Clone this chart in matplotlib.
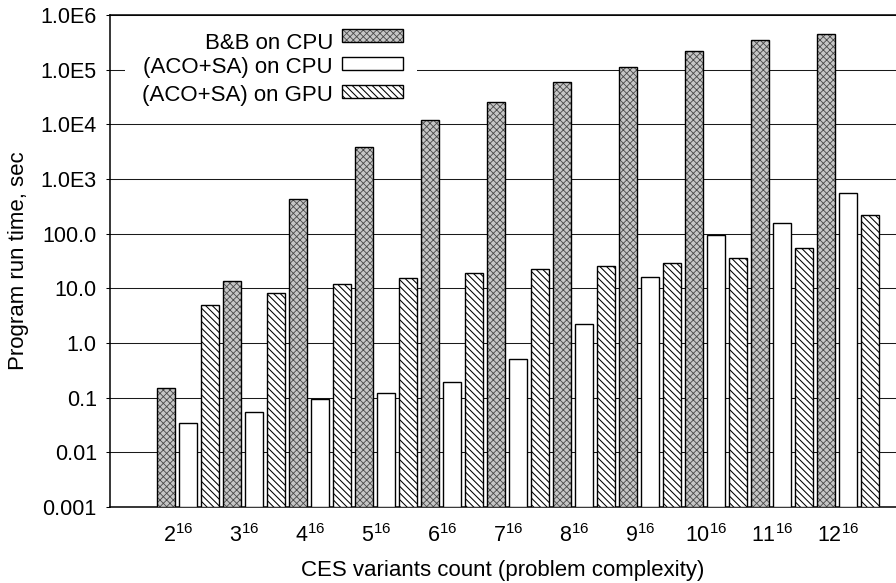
import numpy as np
import matplotlib
matplotlib.use('Agg')
import matplotlib.pyplot as plt
from matplotlib.patches import Rectangle
from matplotlib.ticker import NullLocator

# ---------------- data ----------------
categories = ['2', '3', '4', '5', '6', '7', '8', '9', '10', '11', '12']
exponent = '16'
series_names = ['B&B on CPU', '(ACO+SA) on CPU', '(ACO+SA) on GPU']
bb_cpu = [0.15, 13.6, 425, 3850, 12200, 25900, 60300, 112000, 222000, 356000, 453000]
aco_cpu = [0.035, 0.055, 0.096, 0.123, 0.196, 0.51, 2.22, 16.3, 95, 157, 556]
aco_gpu = [4.9, 8.1, 12.2, 15.7, 18.8, 22.2, 25.9, 29.4, 35.3, 55.6, 220]
ytick_values = [0.001, 0.01, 0.1, 1, 10, 100, 1e3, 1e4, 1e5, 1e6]
ytick_labels = ['0.001', '0.01', '0.1', '1.0', '10.0', '100.0', '1.0E3', '1.0E4', '1.0E5', '1.0E6']
x_label = 'CES variants count (problem complexity)'
y_label = 'Program run time, sec'

# ---------------- style ----------------
plt.rcParams['font.family'] = ['Liberation Sans', 'DejaVu Sans']
plt.rcParams['mathtext.fontset'] = 'custom'
plt.rcParams['mathtext.rm'] = 'Liberation Sans'
plt.rcParams['mathtext.it'] = 'Liberation Sans:italic'
plt.rcParams['mathtext.bf'] = 'Liberation Sans:bold'

W, H = 896, 583
L, R, T, B = 110, 896, 15, 507
fig = plt.figure(figsize=(W / 100, H / 100), dpi=100)
ax = fig.add_axes([L / W, 1 - B / H, (R - L) / W, (B - T) / H])
ax.set_yscale('log')
ymin, ymax = 0.001, 1e6

series = [bb_cpu, aco_cpu, aco_gpu]
offsets = [-1 / 3, 0.0, 1 / 3]
width = 18 / 66
x = np.arange(len(categories))


def set_hlw(patch, lw):
    if hasattr(patch, 'set_hatch_linewidth'):
        patch.set_hatch_linewidth(lw)


def draw_style(k, make):
    """make(face, edge, hatch, lw) -> list of patches"""
    if k == 0:
        with plt.rc_context({'hatch.linewidth': 0.6}):
            ps = make('#c6c6c6', '#4a4a4a', 'xxxxx', 0)
        for p in ps:
            set_hlw(p, 0.6)
        make('none', 'black', None, 1.0)
    elif k == 1:
        make('white', 'black', None, 1.0)
    else:
        with plt.rc_context({'hatch.linewidth': 0.75}):
            ps = make('white', 'black', '\\' * 5, 1.0)
        for p in ps:
            set_hlw(p, 0.75)


for k, vals in enumerate(series):
    v = np.asarray(vals, dtype=float)

    def make(face, edge, hatch, lw, v=v, k=k):
        bc = ax.bar(x + offsets[k], v - ymin, bottom=ymin, width=width,
                    facecolor=face, edgecolor=edge, hatch=hatch, linewidth=lw,
                    zorder=3)
        return list(bc.patches)

    draw_style(k, make)

ax.set_ylim(ymin, ymax)
ax.set_xlim(-78 / 66, 708 / 66)
ax.set_axisbelow(True)
ax.yaxis.grid(True, color='#1a1a1a', linewidth=0.75)
ax.xaxis.grid(False)
ax.yaxis.set_minor_locator(NullLocator())
ax.set_yticks(ytick_values, ytick_labels)
ax.set_xticks(x - 10 / 66, [f'$\\mathrm{{{c}}}^{{\\mathrm{{{exponent}}}}}$' for c in categories])
ax.tick_params(axis='y', direction='out', length=3, width=0.75, pad=6.5, labelsize=15.5)
ax.tick_params(axis='x', length=0, pad=12, labelsize=15.5)
for s in ['left', 'bottom', 'top']:
    ax.spines[s].set_linewidth(1.1)
ax.spines['right'].set_visible(False)

ax.set_xlabel(x_label, fontsize=16)
ax.xaxis.set_label_coords(0.5, (B - 560) / (B - T))
ax.set_ylabel(y_label, fontsize=16, va='center')
ax.yaxis.set_label_coords((19 - L) / (R - L), 0.5)

# ---------------- legend (drawn inside the axes) ----------------
def axx(px):
    return (px - L) / (R - L)


def axy(py):
    return (B - py) / (B - T)


ax.add_patch(Rectangle((axx(125), axy(106)), axx(417) - axx(125), axy(22) - axy(106),
                       transform=ax.transAxes, facecolor='white', edgecolor='none',
                       zorder=4))
text_base = [49.5, 73, 101.5]
patch_top = [29.5, 57.5, 85.5]
for k, name in enumerate(series_names):
    ax.text(axx(333), axy(text_base[k]), name, transform=ax.transAxes,
            ha='right', va='baseline', fontsize=16, zorder=6)

    def make(face, edge, hatch, lw, k=k):
        r = Rectangle((axx(342), axy(patch_top[k] + 13)), axx(403) - axx(342),
                      axy(patch_top[k]) - axy(patch_top[k] + 13),
                      transform=ax.transAxes, facecolor=face, edgecolor=edge,
                      hatch=hatch, linewidth=lw, zorder=6, clip_on=False)
        ax.add_patch(r)
        return [r]

    draw_style(k, make)

fig.savefig('out.png', dpi=100)
